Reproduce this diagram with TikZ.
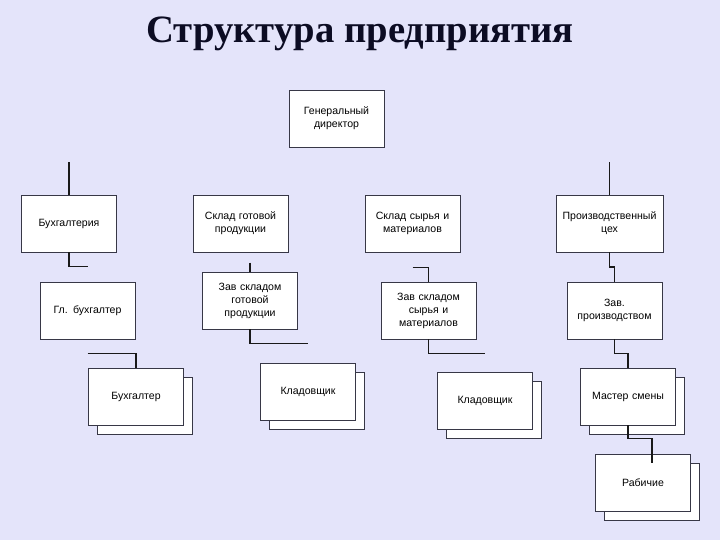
\documentclass[tikz,border=0pt]{standalone}
\usepackage{fontspec}
\setmainfont{Liberation Sans}
\newfontfamily\titlefont{Liberation Serif}
\usetikzlibrary{positioning, calc}
\definecolor{slidebg}{RGB}{228,228,250}
\definecolor{boxline}{RGB}{55,55,70}
\definecolor{titlecol}{RGB}{12,12,35}

\begin{document}
\begin{tikzpicture}
  [x=0.025cm,y=-0.025cm,
   basicbox/.style={draw=boxline,rectangle,inner sep=0pt,minimum width=2.375cm,minimum height=1.425cm,fill=white,
     text width=2.3cm,align=center,text=black,font=\fontsize{7.5}{9.2}\selectfont},
   widebox/.style={basicbox,minimum width=2.675cm,text width=2.6cm},
   backbox/.style={basicbox},
   link/.style={draw=black!90,line width=0.8pt}]
  \fill [slidebg] (0,0) rectangle (720,540);
  \useasboundingbox (0,0) rectangle (720,540);
  \node (title) at (360,42) [anchor=base,text=titlecol,font=\titlefont\bfseries\fontsize{27.5}{32}\selectfont] {Структура предприятия};
  % top level
  \node (gendir) at (336.5,118.5) [basicbox] {Генеральный\\директор};
  \node (buhgalteria) at (69,223.5) [basicbox] {Бухгалтерия};
  \node (skladgot) at (240.5,223.5) [basicbox] {Склад готовой\\продукции};
  \node (skladsyr) at (412.5,223.5) [basicbox] {Склад сырья и\\материалов};
  \node (proizv) at (609.5,223.5) [widebox] {Производственный\\цех};
  % heads
  \node (glbuh) at (87.5,310.5) [basicbox] {Гл. бухгалтер};
  \node (zavgot) at (250,300.5) [basicbox] {Зав складом\\готовой\\продукции};
  \node (zavsyr) at (428.5,310.5) [basicbox] {Зав складом\\сырья и\\материалов};
  \node (zavproizv) at (614.5,310.5) [basicbox] {Зав.\\производством};
  % staff, drawn as stacks
  \node (buhgalterback) at (145,405.5) [backbox] {};
  \node (buhgalter) at ([shift={(-9,-9)}]buhgalterback.center) [basicbox] {Бухгалтер};
  \node (kladov1back) at (317,401) [backbox] {};
  \node (kladov1) at ([shift={(-9,-9)}]kladov1back.center) [basicbox] {Кладовщик};
  \node (kladov2back) at (494,410) [backbox] {};
  \node (kladov2) at ([shift={(-9,-9)}]kladov2back.center) [basicbox] {Кладовщик};
  \node (masterback) at (637,405.5) [backbox] {};
  \node (master) at ([shift={(-9,-9)}]masterback.center) [basicbox] {Мастер смены};
  \node (rabochieback) at (652,491.5) [backbox] {};
  \node (rabochie) at ([shift={(-9,-9)}]rabochieback.center) [basicbox] {Рабичие};
  % loose ends of the connectors
  \coordinate (buhgalteriatop) at ([shift={(0,-33)}]buhgalteria.north);
  \coordinate (proizvtop) at ([shift={(0,-33)}]proizv.north);
  \coordinate (glbuhjoin) at ([shift={(0,-15)}]glbuh.north);
  \coordinate (buhgalterjoin) at ([shift={(0,14)}]glbuh.south);
  \coordinate (zavgotjoin) at ([shift={(0,-9)}]zavgot.north);
  \coordinate (kladov1join) at ([shift={(0,-20)}]kladov1.north);
  \coordinate (zavsyrjoin) at ([shift={(0,15)}]skladsyr.south);
  \coordinate (kladov2join) at ([shift={(0,-19)}]kladov2.north);
  \coordinate (rabochiejoin) at ([shift={(0,-24)}]rabochieback.north);
  \draw [link] (buhgalteria.north) -- (buhgalteriatop);
  \draw [link] (proizv.north) -- (proizvtop);
  \draw [link] (buhgalteria.south) |- (glbuhjoin);
  \draw [link] (buhgalterjoin) -| (buhgalter.north);
  \draw [link] (zavgotjoin) -- (zavgot.north);
  \draw [link] (zavgot.south) |- (kladov1join);
  \draw [link] (zavsyrjoin) -| (zavsyr.north);
  \draw [link] (zavsyr.south) |- (kladov2join);
  \draw [link] (proizv.south) |- ($(proizv.south)!.5!(zavproizv.north)$) -| (zavproizv.north);
  \draw [link] (zavproizv.south) |- ($(zavproizv.south)!.5!(master.north)$) -| (master.north);
  \draw [link] (master.south) |- (rabochiejoin) -- (rabochieback.north);
\end{tikzpicture}
\end{document}
